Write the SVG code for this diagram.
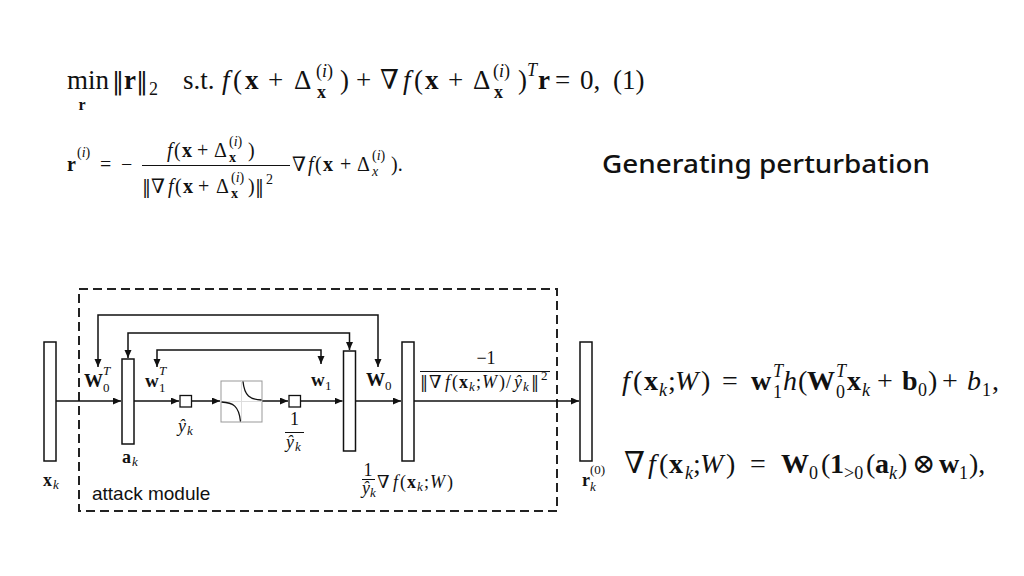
<svg xmlns="http://www.w3.org/2000/svg" width="1024" height="576" viewBox="0 0 1024 576">
<defs>
<style>
.m{font-family:"Liberation Serif","DejaVu Serif",serif;fill:#111}
.i{font-style:italic}
.b{font-weight:bold}
.n{font-family:"DejaVu Serif",serif}
.bar{fill:#fff;stroke:#111;stroke-width:1.5}
.ln{fill:none;stroke:#111;stroke-width:1.5}
.fl{fill:none;stroke:#111;stroke-width:1}
</style>
<marker id="ah" markerWidth="9" markerHeight="8" refX="8" refY="3.5" orient="auto" markerUnits="userSpaceOnUse">
<path d="M0,0 L8,3.5 L0,7 z" fill="#111"/>
</marker>
</defs>
<rect width="1024" height="576" fill="#fff"/>

<!-- Equation 1 -->
<g id="eq1" class="m" font-size="27">
<text y="89"><tspan x="67">min</tspan><tspan x="112" class="n" font-size="24">‖</tspan><tspan x="124" class="b">r</tspan><tspan x="136" class="n" font-size="24">‖</tspan><tspan x="149" y="95" font-size="18">2</tspan></text>
<text x="82" y="110" font-size="16" class="b" text-anchor="middle">r</text>
<text y="89"><tspan x="183">s.t.</tspan><tspan x="222" class="i">f</tspan><tspan x="233">(</tspan><tspan x="245" class="b">x</tspan><tspan x="268">+</tspan><tspan x="294">Δ</tspan><tspan x="340">)</tspan><tspan x="356">+</tspan><tspan x="380">∇</tspan><tspan x="403" class="i">f</tspan><tspan x="414">(</tspan><tspan x="425" class="b">x</tspan><tspan x="448">+</tspan><tspan x="473">Δ</tspan><tspan x="518">)</tspan><tspan x="538" class="b">r</tspan><tspan x="555">=</tspan><tspan x="580">0,</tspan><tspan x="613">(1)</tspan></text>
<text font-size="18"><tspan x="316" y="77">(<tspan class="i">i</tspan>)</tspan><tspan x="317" y="98" class="b">x</tspan><tspan x="493" y="77">(<tspan class="i">i</tspan>)</tspan><tspan x="494" y="98" class="b">x</tspan><tspan x="527" y="76" class="i">T</tspan></text>
</g>

<!-- Equation 2 -->
<g id="eq2" class="m" font-size="20">
<text y="171"><tspan x="67" class="b">r</tspan><tspan x="100">=</tspan><tspan x="121">−</tspan></text>
<text font-size="14"><tspan x="77" y="157">(<tspan class="i">i</tspan>)</tspan></text>
<line x1="142" y1="165.5" x2="290" y2="165.5" class="fl"/>
<text y="157"><tspan x="167" class="i">f</tspan><tspan x="174">(</tspan><tspan x="182" class="b">x</tspan><tspan x="197">+</tspan><tspan x="214">Δ</tspan><tspan x="248">)</tspan></text>
<text font-size="14"><tspan x="229" y="146">(<tspan class="i">i</tspan>)</tspan><tspan x="229" y="162" class="b">x</tspan></text>
<text y="193"><tspan x="142" class="n" font-size="18">‖</tspan><tspan x="151">∇</tspan><tspan x="168" class="i">f</tspan><tspan x="175">(</tspan><tspan x="183" class="b">x</tspan><tspan x="198">+</tspan><tspan x="216">Δ</tspan><tspan x="248">)</tspan><tspan x="255" class="n" font-size="18">‖</tspan></text>
<text font-size="14"><tspan x="231" y="182">(<tspan class="i">i</tspan>)</tspan><tspan x="231" y="198" class="b">x</tspan><tspan x="266" y="184">2</tspan></text>
<text y="171"><tspan x="292">∇</tspan><tspan x="308" class="i">f</tspan><tspan x="315">(</tspan><tspan x="323" class="b">x</tspan><tspan x="340">+</tspan><tspan x="357">Δ</tspan><tspan x="391">).</tspan></text>
<text font-size="14"><tspan x="372" y="160">(<tspan class="i">i</tspan>)</tspan><tspan x="372" y="176" class="i">x</tspan></text>
</g>

<!-- Title -->
<text id="title" x="602" y="173" font-family="'Noto Sans','Liberation Sans',sans-serif" font-size="25" font-weight="500" fill="#111" textLength="328" lengthAdjust="spacingAndGlyphs">Generating perturbation</text>

<!-- Equation 3 -->
<g id="eq3" class="m" font-size="28">
<text y="390"><tspan x="622" class="i">f</tspan><tspan x="633">(</tspan><tspan x="644" class="b">x</tspan><tspan x="668">;</tspan><tspan x="675" class="i">W</tspan><tspan x="701">)</tspan><tspan x="722">=</tspan><tspan x="751" class="b">w</tspan><tspan x="783" class="i">h</tspan><tspan x="798">(</tspan><tspan x="807" class="b">W</tspan><tspan x="847" class="b">x</tspan><tspan x="877">+</tspan><tspan x="902" class="b">b</tspan><tspan x="928">)</tspan><tspan x="942">+</tspan><tspan x="967" class="i">b</tspan><tspan x="992">,</tspan></text>
<text font-size="18"><tspan x="659" y="396" class="i">k</tspan><tspan x="773" y="377" class="i">T</tspan><tspan x="773" y="398">1</tspan><tspan x="836" y="377" class="i">T</tspan><tspan x="836" y="398">0</tspan><tspan x="862" y="396" class="i">k</tspan><tspan x="918" y="396">0</tspan><tspan x="982" y="396">1</tspan></text>
</g>

<!-- Equation 4 -->
<g id="eq4" class="m" font-size="28">
<text y="473"><tspan x="624" font-size="30">∇</tspan><tspan x="648" class="i">f</tspan><tspan x="659">(</tspan><tspan x="669" class="b">x</tspan><tspan x="693">;</tspan><tspan x="700" class="i">W</tspan><tspan x="726">)</tspan><tspan x="750">=</tspan><tspan x="781" class="b">W</tspan><tspan x="821">(</tspan><tspan x="830" class="b">1</tspan><tspan x="866">(</tspan><tspan x="875" class="b">a</tspan><tspan x="898">)</tspan><tspan x="912">⊗</tspan><tspan x="939" class="b">w</tspan><tspan x="969">),</tspan></text>
<text font-size="18"><tspan x="685" y="479" class="i">k</tspan><tspan x="809" y="479">0</tspan><tspan x="844" y="479">&gt;0</tspan><tspan x="889" y="479" class="i">k</tspan><tspan x="959" y="479">1</tspan></text>
</g>

<!-- Diagram -->
<rect id="attack-module" x="79" y="289" width="478" height="222" fill="none" stroke="#222" stroke-width="2" stroke-dasharray="9 5"/>
<text x="92" y="500" font-family="'Liberation Sans',Arial,sans-serif" font-size="19" fill="#111">attack module</text>

<g id="connectors">
<path class="ln" d="M56,401 H121" marker-end="url(#ah)"/>
<path class="ln" d="M134,401 H179" marker-end="url(#ah)"/>
<path class="ln" d="M191.5,401 H220" marker-end="url(#ah)"/>
<path class="ln" d="M262,401 H288" marker-end="url(#ah)"/>
<path class="ln" d="M300.5,401 H342.5" marker-end="url(#ah)"/>
<path class="ln" d="M355.5,401 H401" marker-end="url(#ah)"/>
<path class="ln" d="M414,401 H579" marker-end="url(#ah)"/>
<path class="ln" d="M240,315 H98 V367" marker-end="url(#ah)"/>
<path class="ln" d="M240,315 H378 V367" marker-end="url(#ah)"/>
<path class="ln" d="M240,333 H128 V358" marker-end="url(#ah)"/>
<path class="ln" d="M240,333 H349.5 V350" marker-end="url(#ah)"/>
<path class="ln" d="M240,350 H157 V367" marker-end="url(#ah)"/>
<path class="ln" d="M240,350 H321 V364" marker-end="url(#ah)"/>
</g>

<g id="node-xk">
<rect class="bar" x="44" y="342" width="12" height="119"/>
<text class="m" font-size="18" y="486"><tspan x="43" class="b">x</tspan><tspan x="53" y="489" font-size="13" class="i">k</tspan></text>
</g>
<g id="node-ak">
<rect class="bar" x="122" y="359" width="12" height="85"/>
<text class="m" font-size="18" y="463"><tspan x="122" class="b">a</tspan><tspan x="132" y="466" font-size="13" class="i">k</tspan></text>
</g>
<g id="node-W0T">
<text class="m" font-size="19" y="387"><tspan x="84" class="b">W</tspan><tspan x="103" y="375" font-size="13" class="i">T</tspan><tspan x="103" y="392" font-size="13">0</tspan></text>
</g>
<g id="node-w1T">
<text class="m" font-size="19" y="387"><tspan x="145" class="b">w</tspan><tspan x="159" y="375" font-size="13" class="i">T</tspan><tspan x="159" y="392" font-size="13">1</tspan></text>
</g>
<g id="node-yk">
<rect x="180" y="395.5" width="11.5" height="11.5" fill="#fff" stroke="#111" stroke-width="1.3"/>
<text class="m" font-size="18" y="432"><tspan x="178" class="i">ŷ</tspan><tspan x="187" y="435" font-size="13" class="i">k</tspan></text>
</g>
<g id="node-func">
<rect x="221" y="381" width="41" height="41" fill="#fff" stroke="#999" stroke-width="1"/>
<line x1="241.5" y1="381" x2="241.5" y2="422" stroke="#ddd" stroke-width="1"/>
<line x1="221" y1="401.5" x2="262" y2="401.5" stroke="#ddd" stroke-width="1"/>
<path d="M221.5,402 C233,402.5 239,406 240.5,421.5" fill="none" stroke="#111" stroke-width="1.3"/>
<path d="M243,381.5 C244.5,396 250,399.5 261.5,400" fill="none" stroke="#111" stroke-width="1.3"/>
</g>
<g id="node-inv-yk">
<rect x="289" y="395.5" width="11.5" height="11.5" fill="#fff" stroke="#111" stroke-width="1.3"/>
<text class="m" font-size="18" x="294.5" y="425" text-anchor="middle">1</text>
<line x1="285" y1="432.5" x2="304" y2="432.5" class="fl"/>
<text class="m" font-size="18" y="448"><tspan x="286" class="i">ŷ</tspan><tspan x="295" y="451" font-size="13" class="i">k</tspan></text>
</g>
<g id="node-w1">
<text class="m" font-size="19" y="386"><tspan x="311" class="b">w</tspan><tspan x="325" y="390" font-size="13">1</tspan></text>
</g>
<g id="node-layer3">
<rect class="bar" x="343.5" y="351" width="12" height="100"/>
</g>
<g id="node-W0">
<text class="m" font-size="19" y="386"><tspan x="366" class="b">W</tspan><tspan x="385" y="390" font-size="13">0</tspan></text>
</g>
<g id="node-grad">
<rect class="bar" x="402" y="342" width="12" height="119"/>
<text class="m" font-size="18" x="368" y="476" text-anchor="middle">1</text>
<line x1="362" y1="479.5" x2="375" y2="479.5" class="fl"/>
<text class="m" font-size="18" y="494"><tspan x="362" class="i">ŷ</tspan><tspan x="370" y="497" font-size="13" class="i">k</tspan></text>
<text class="m" font-size="18" y="488"><tspan x="377">∇</tspan><tspan x="393" class="i">f</tspan><tspan x="400">(</tspan><tspan x="407" class="b">x</tspan><tspan x="417" y="491" font-size="13" class="i">k</tspan><tspan x="424" y="488">;</tspan><tspan x="430" class="i">W</tspan><tspan x="447">)</tspan></text>
</g>
<g id="node-scale">
<text class="m" font-size="18" x="486" y="364" text-anchor="middle">−1</text>
<line x1="420" y1="371.5" x2="550" y2="371.5" class="fl"/>
<text class="m" font-size="18" y="388"><tspan x="420" class="n" font-size="16">‖</tspan><tspan x="429">∇</tspan><tspan x="445" class="i">f</tspan><tspan x="452">(</tspan><tspan x="459" class="b">x</tspan><tspan x="469" y="391" font-size="13" class="i">k</tspan><tspan x="476" y="388">;</tspan><tspan x="482" class="i">W</tspan><tspan x="499">)</tspan><tspan x="506">/</tspan><tspan x="514" class="i">ŷ</tspan><tspan x="523" y="391" font-size="13" class="i">k</tspan><tspan x="531" y="388" class="n" font-size="16">‖</tspan><tspan x="541" y="380" font-size="13">2</tspan></text>
</g>
<g id="node-rk">
<rect class="bar" x="580" y="342" width="12" height="119"/>
<text class="m" font-size="18" y="486"><tspan x="582" class="b">r</tspan><tspan x="590" y="474" font-size="13">(0)</tspan><tspan x="590" y="491" font-size="13" class="i">k</tspan></text>
</g>
</svg>
